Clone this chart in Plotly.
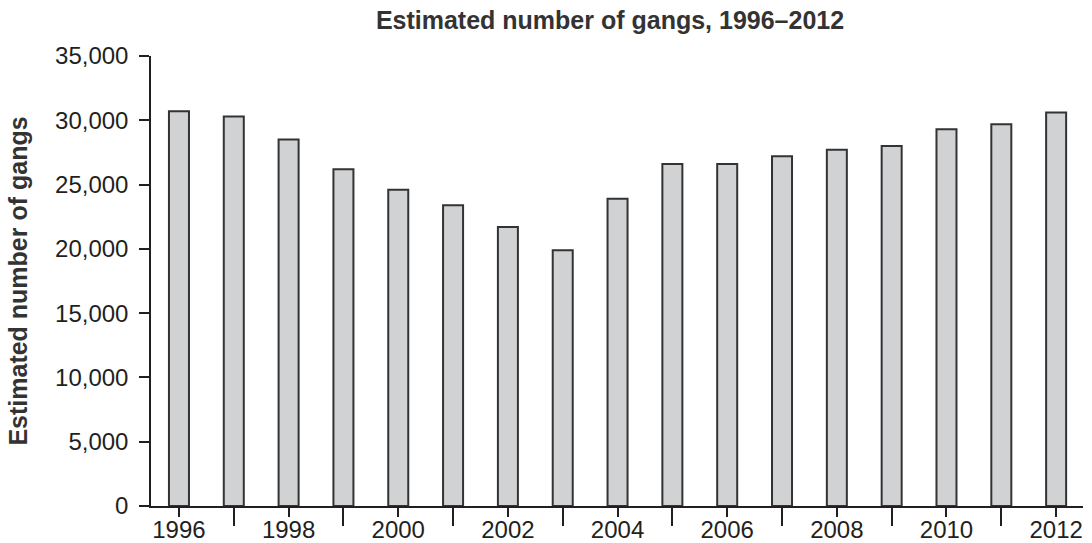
import plotly.graph_objects as go

years = list(range(1996, 2013))
gangs = [30700, 30300, 28500, 26200, 24600, 23400, 21700, 19900,
         23900, 26600, 26600, 27200, 27700, 28000, 29300, 29700, 30600]
title_text = "Estimated number of gangs, 1996–2012"
y_title = "Estimated number of gangs"
y_ticks = [0, 5000, 10000, 15000, 20000, 25000, 30000, 35000]
x_ticks = [1996, 1998, 2000, 2002, 2004, 2006, 2008, 2010, 2012]

ink = "#231f20"
font_family = "Liberation Sans, Arial, sans-serif"

fig = go.Figure(go.Bar(
    x=years, y=gangs, width=0.365,
    marker=dict(color="#d1d2d4", line=dict(color="#333333", width=2)),
))

fig.update_layout(
    width=1092, height=543,
    margin=dict(l=151, r=9, t=56, b=37),
    paper_bgcolor="white", plot_bgcolor="white",
    showlegend=False,
    font=dict(family=font_family, color=ink, size=24),
    title=dict(text="<b>" + title_text + "</b>", x=610 / 1092, xanchor="center",
               y=1 - 20 / 543, yanchor="middle", yref="container",
               font=dict(size=25, color="#333333")),
)

fig.update_xaxes(
    range=[1995.49, 2012.49],
    tickmode="array", tickvals=x_ticks, ticktext=[str(v) for v in x_ticks],
    ticks="outside", ticklen=9, tickwidth=1.5, tickcolor=ink,
    minor=dict(tick0=1997, dtick=2, ticks="outside", ticklen=18, tickwidth=1.5, tickcolor=ink),
    showline=True, linecolor=ink, linewidth=1.5,
    showgrid=False, zeroline=False, automargin=False,
    ticklabelstandoff=-8,
    tickfont=dict(size=24, color=ink),
)

fig.update_yaxes(
    range=[0, 35000],
    tickmode="array", tickvals=y_ticks, ticktext=[f"{v:,}" for v in y_ticks],
    ticks="outside", ticklen=10, tickwidth=1.5, tickcolor=ink,
    showline=True, linecolor=ink, linewidth=1.5,
    showgrid=False, zeroline=False, automargin=False,
    ticklabelstandoff=6,
    tickfont=dict(size=24, color=ink),
    title=dict(text="<b>" + y_title + "</b>", font=dict(size=25, color="#333333"), standoff=20),
)

fig.write_html("out.html", config={"displayModeBar": False},
               post_script="document.body.style.margin='0';")
